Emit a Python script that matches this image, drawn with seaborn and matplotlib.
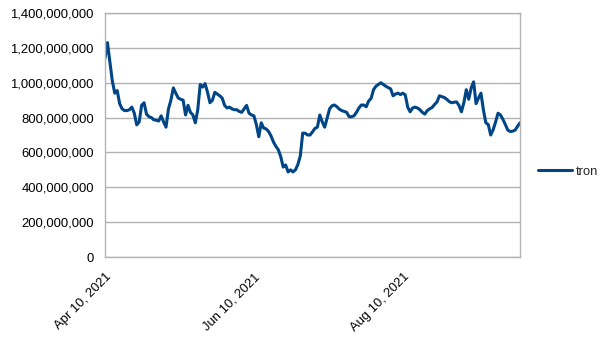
import numpy as np
import pandas as pd
import matplotlib
matplotlib.use("Agg")
import matplotlib.pyplot as plt
import matplotlib.ticker as mticker
import seaborn as sns

# Daily values of "tron" from 2021-04-10, in millions
start_date = "2021-04-10"
tron_millions = [
    1140, 1230, 1120, 1010, 940, 955, 880, 850, 840, 840,
    845, 860, 825, 758, 775, 870, 885, 820, 805, 800,
    787, 785, 780, 810, 775, 745, 850, 900, 970, 940,
    912, 905, 900, 815, 870, 830, 815, 770, 845, 990,
    975, 995, 945, 885, 900, 945, 935, 925, 912, 870,
    855, 860, 850, 845, 845, 835, 830, 850, 870, 825,
    815, 810, 760, 690, 770, 740, 735, 720, 695, 660,
    635, 615, 575, 516, 528, 488, 500, 488, 500, 530,
    580, 711, 710, 700, 700, 718, 738, 745, 815, 775,
    745, 798, 850, 868, 872, 862, 848, 840, 835, 830,
    805, 805, 810, 830, 855, 872, 872, 862, 895, 910,
    960, 980, 990, 1000, 990, 980, 972, 965, 925, 935,
    940, 932, 940, 930, 860, 833, 855, 860, 855, 845,
    830, 820, 840, 850, 858, 875, 890, 925, 920, 915,
    905, 892, 885, 888, 890, 870, 833, 885, 960, 905,
    970, 1005, 880, 912, 940, 845, 770, 760, 700, 730,
    775, 825, 815, 790, 760, 728, 720, 722, 728, 750,
    770,
]
tick_dates = ["2021-04-10", "2021-06-10", "2021-08-10"]
tick_labels = ["Apr 10, 2021", "Jun 10, 2021", "Aug 10, 2021"]
series_name = "tron"

dates = pd.date_range(start_date, periods=len(tron_millions), freq="D")
df = pd.DataFrame({
    "date": dates,
    "value": np.array(tron_millions, dtype=float) * 1e6,
    "series": series_name,
})

sns.set_style("white")
plt.rcParams["font.family"] = ["Liberation Sans", "DejaVu Sans"]

fig = plt.figure(figsize=(6.05, 3.40), dpi=100)
ax = fig.add_axes([105 / 605, 1 - 257 / 340, 415 / 605, 244 / 340])

sns.lineplot(data=df, x="date", y="value", hue="series",
             palette=["#004586"], linewidth=2.2, ax=ax)

grey = "#b3b3b3"
ax.set_ylim(0, 1.4e9)
ax.set_xlim(dates[0], dates[-1])
ax.yaxis.set_major_locator(mticker.MultipleLocator(2e8))
ax.yaxis.set_major_formatter(mticker.FuncFormatter(lambda v, p: f"{v:,.0f}"))
ax.set_xticks(pd.to_datetime(tick_dates))
ax.set_xticklabels(tick_labels, rotation=45, ha="right", rotation_mode="anchor")
ax.grid(axis="y", color=grey, linewidth=1)
ax.set_axisbelow(True)
for s in ax.spines.values():
    s.set_color(grey)
    s.set_linewidth(1)
ax.tick_params(axis="both", which="major", length=5, width=1, color=grey,
               labelsize=9.4, labelcolor="black", pad=3)
ax.tick_params(axis="x", pad=5)
ax.set_xlabel("")
ax.set_ylabel("")

handles, labels = ax.get_legend_handles_labels()
ax.legend(handles, labels, loc="center left", bbox_to_anchor=(1.015, 0.35),
          frameon=False, fontsize=9.4, handlelength=2.6, handletextpad=0.3)

fig.savefig("out.png", dpi=100)
